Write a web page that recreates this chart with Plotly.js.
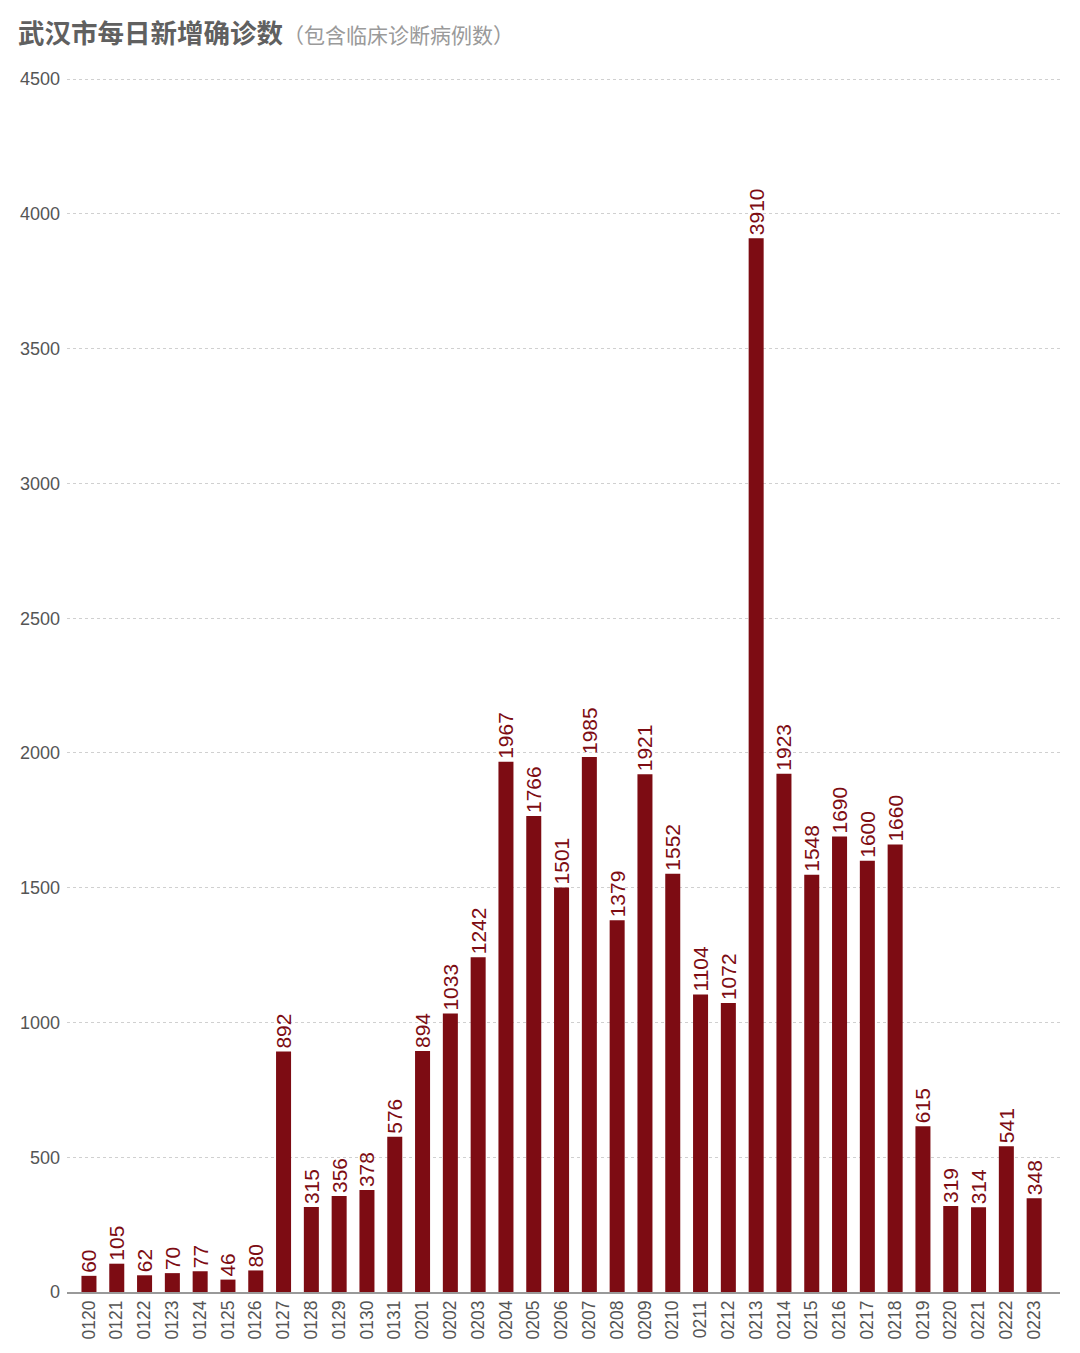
<!DOCTYPE html>
<html><head><meta charset="utf-8">
<script src="https://cdn.plot.ly/plotly-3.0.1.min.js"></script>
<style>body{margin:0;background:#fff}#chart{width:1080px;height:1353px}</style>
</head><body><div id="chart"></div>
<script>
var dates = ["0120","0121","0122","0123","0124","0125","0126","0127","0128","0129","0130","0131","0201","0202","0203","0204","0205","0206","0207","0208","0209","0210","0211","0212","0213","0214","0215","0216","0217","0218","0219","0220","0221","0222","0223"];
var newCases = [60,105,62,70,77,46,80,892,315,356,378,576,894,1033,1242,1967,1766,1501,1985,1379,1921,1552,1104,1072,3910,1923,1548,1690,1600,1660,615,319,314,541,348];
var yTicks = [0,500,1000,1500,2000,2500,3000,3500,4000,4500];
var titleMain = "武汉市每日新增确诊数";
var titleSub = "（包含临床诊断病例数）";

var barColor = "#7d0c13";
var trace = {
  type: "bar",
  x: dates,
  y: newCases,
  marker: {color: barColor},
  text: newCases.map(String),
  textposition: "outside",
  textangle: -90,
  constraintext: "none",
  cliponaxis: false,
  textfont: {family: "Liberation Sans, Arial, sans-serif", size: 21, color: barColor},
  hoverinfo: "none"
};
var layout = {
  width: 1080, height: 1353,
  margin: {l: 67, r: 20, t: 77, b: 61},
  paper_bgcolor: "#fff", plot_bgcolor: "#fff",
  bargap: 0.46,
  showlegend: false,
  font: {family: "Liberation Sans, Arial, sans-serif", color: "#555"},
  title: {
    text: "<b>" + titleMain + "</b><span style='font-size:21px;color:#9a9a9a;font-weight:normal'>" + titleSub + "</span>",
    font: {family: "Noto Sans CJK SC, sans-serif", size: 26.5, color: "#606060"},
    x: 18/1080, xanchor: "left", xref: "container",
    y: 1 - 34/1353, yref: "container", yanchor: "middle"
  },
  xaxis: {
    type: "category",
    range: [-0.79, 34.93],
    tickangle: -90,
    tickfont: {size: 17.5, color: "#555"},
    showline: true, linecolor: "#999", linewidth: 1.5,
    ticks: "", showgrid: false, automargin: false
  },
  yaxis: {
    range: [0, 4508],
    tickvals: yTicks,
    ticktext: yTicks.map(String),
    tickfont: {size: 18, color: "#555"},
    ticks: "", ticklen: 0,
    showgrid: true, gridcolor: "#d0d0d0", gridwidth: 1, griddash: "dot",
    zeroline: false, showline: false, automargin: false,
    ticklabelstandoff: 6
  }
};
Plotly.newPlot("chart", [trace], layout, {staticPlot: true});
</script></body></html>
